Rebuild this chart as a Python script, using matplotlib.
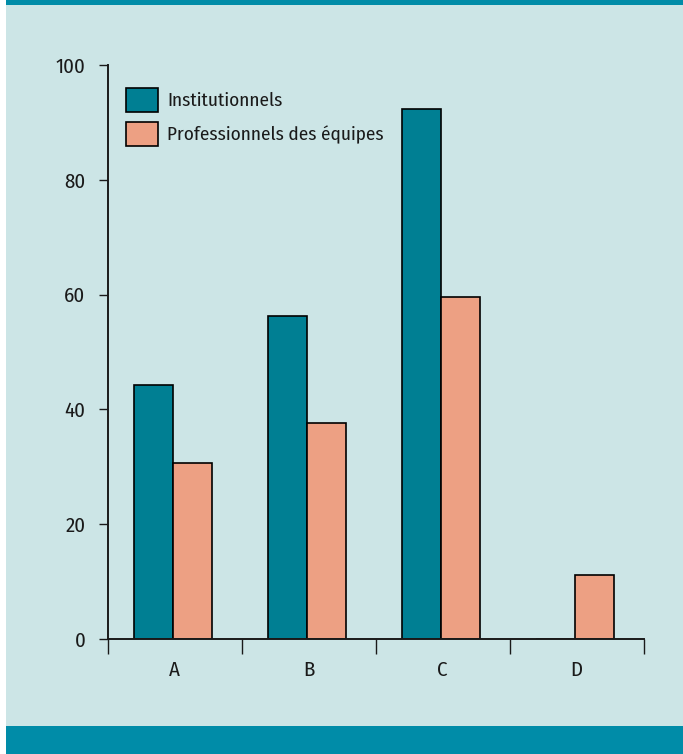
import matplotlib
matplotlib.use("Agg")
import matplotlib.pyplot as plt
from matplotlib.patches import Rectangle, Patch
import numpy as np

categories = ["A", "B", "C", "D"]
institutionnels = [44.2, 56.3, 92.3, 0.0]
professionnels = [30.7, 37.6, 59.6, 11.1]
series_labels = ["Institutionnels", "Professionnels des équipes"]
y_ticks = [0, 20, 40, 60, 80, 100]

TEAL = "#007f93"
SALMON = "#eda083"
BG = "#cce5e6"
BAND = "#008ca8"
FONT = ["Fira Sans Condensed", "Liberation Sans", "DejaVu Sans"]

plt.rcParams["font.family"] = FONT
plt.rcParams["font.weight"] = "normal"

W, H = 683, 754
fig = plt.figure(figsize=(W / 100, H / 100), dpi=100)
fig.patch.set_facecolor("white")
# background panel, top strip and bottom band
fig.add_artist(Rectangle((6 / W, 0), 1 - 6 / W, 1, transform=fig.transFigure,
                         facecolor=BG, edgecolor="none", zorder=0))
fig.add_artist(Rectangle((6 / W, 1 - 5 / H), 1 - 6 / W, 5 / H, transform=fig.transFigure,
                         facecolor=BAND, edgecolor="none", zorder=0))
fig.add_artist(Rectangle((6 / W, 0), 1 - 6 / W, 28 / H, transform=fig.transFigure,
                         facecolor=BAND, edgecolor="none", zorder=0))

ax = fig.add_axes([107.7 / W, (H - 639) / H, 536 / W, 574 / H])
ax.set_facecolor("none")

x = np.arange(len(categories)) + 0.5
bw = 0.293
ax.bar(x - bw / 2 - 0.012, institutionnels, width=bw, color=TEAL, edgecolor="black",
       linewidth=1.2, zorder=3)
ax.bar(x + bw / 2 - 0.012, professionnels, width=bw, color=SALMON, edgecolor="black",
       linewidth=1.2, zorder=3)

ax.set_xlim(0, len(categories))
ax.set_ylim(0, 100)

for s in ["top", "right"]:
    ax.spines[s].set_visible(False)
for s in ["left", "bottom"]:
    ax.spines[s].set_linewidth(1.4)
    ax.spines[s].set_color("#1a1a1a")
    ax.spines[s].set_zorder(4)

ax.set_yticks(y_ticks)
ax.set_yticklabels([str(v) for v in y_ticks])
ax.tick_params(axis="y", length=6.5, width=1.0, pad=9.5, labelsize=15, colors="#1a1a1a")

ax.set_xticks(np.arange(len(categories) + 1))
ax.set_xticklabels([])
ax.tick_params(axis="x", which="major", direction="out", length=10.8, width=1.0,
               color="#1a1a1a")
ax.set_xticks(x, minor=True)
ax.set_xticklabels(categories, minor=True)
ax.tick_params(axis="x", which="minor", length=0, pad=15.5, labelsize=15, colors="#1a1a1a")

handles = [Patch(facecolor=TEAL, edgecolor="black", linewidth=1.2),
           Patch(facecolor=SALMON, edgecolor="black", linewidth=1.2)]
leg = ax.legend(handles, series_labels, loc="upper left",
                bbox_to_anchor=((126 - 107.7) / 536, (639 - 88) / 574),
                frameon=False, borderpad=0, borderaxespad=0, fontsize=13.8,
                handlelength=1.66, handleheight=1.52, handletextpad=0.5,
                labelspacing=0.55)
for t in leg.get_texts():
    t.set_color("#1a1a1a")

fig.savefig("out.png", dpi=100, facecolor=fig.get_facecolor())
